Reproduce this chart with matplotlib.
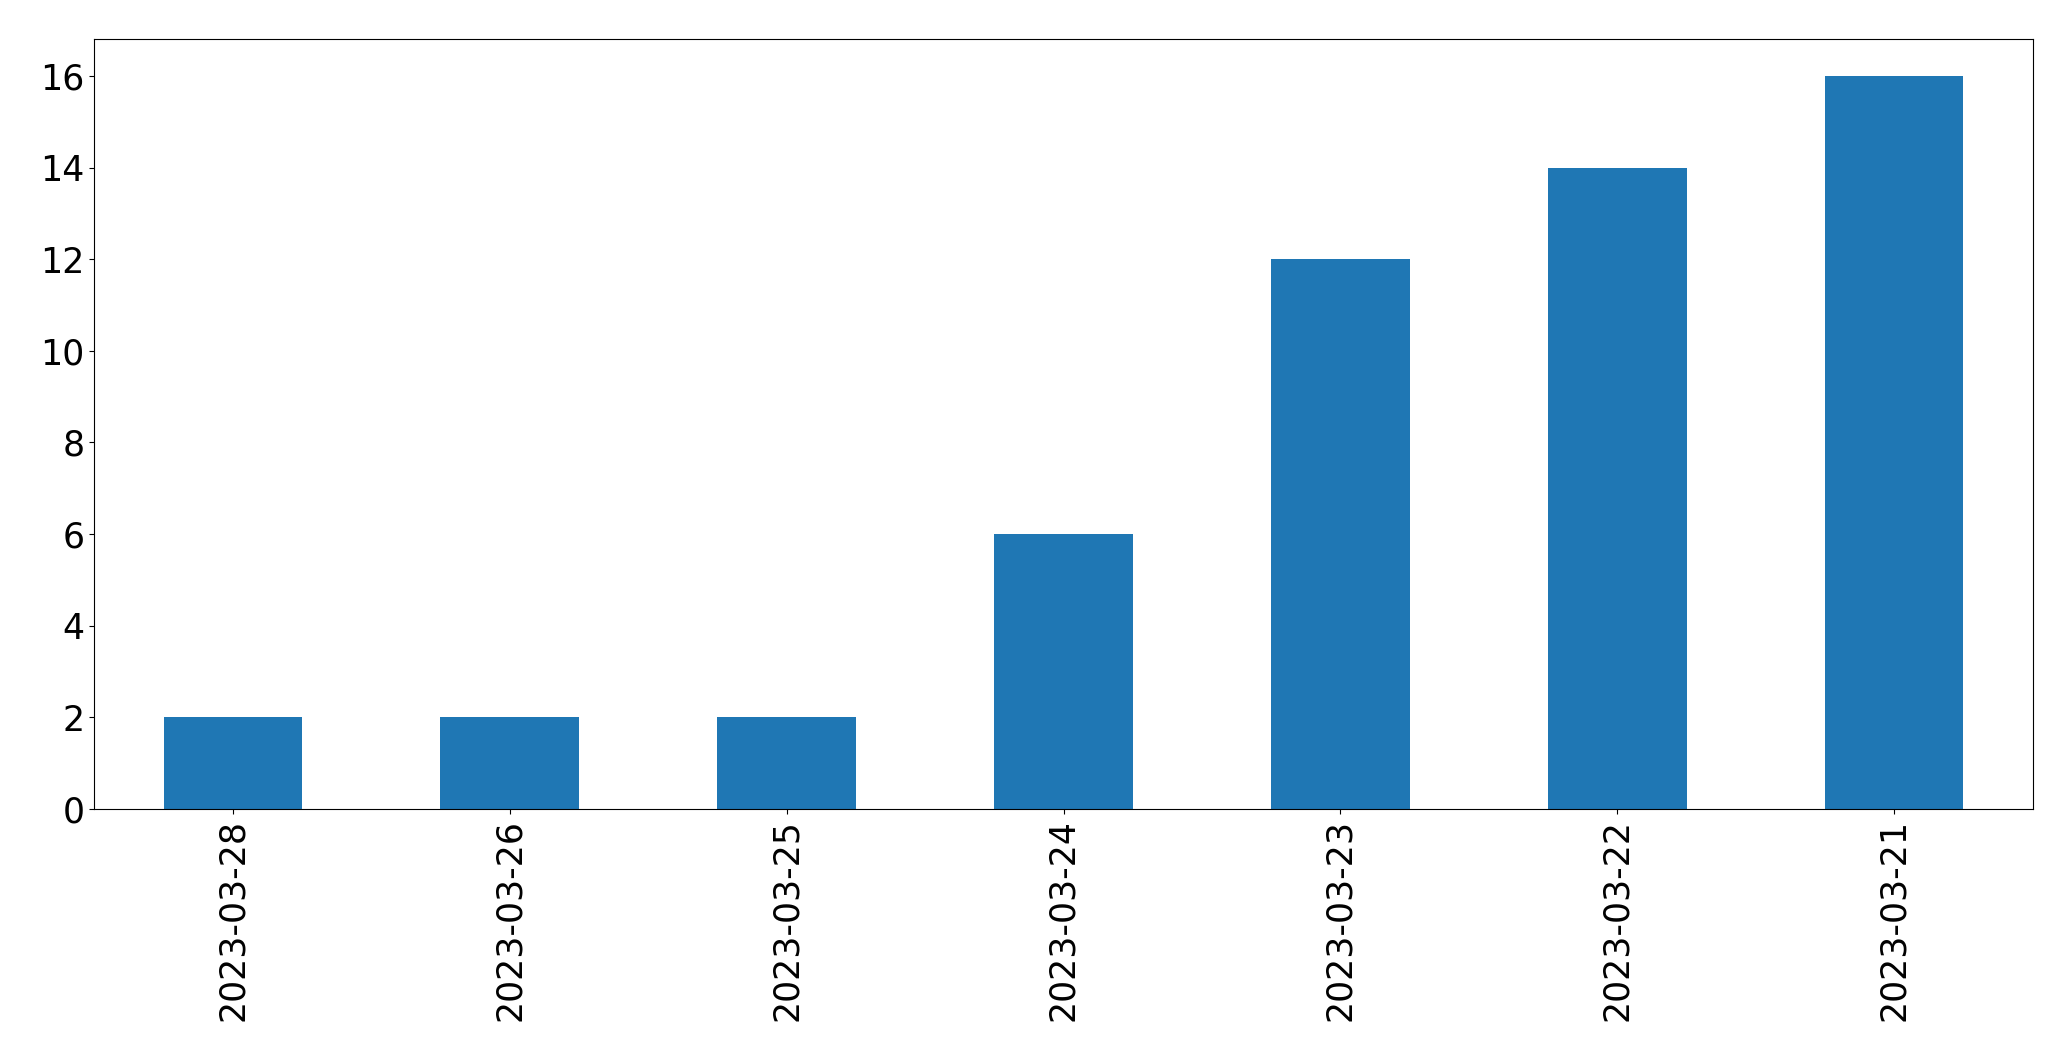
import matplotlib
matplotlib.use("Agg")
import matplotlib.pyplot as plt

dates = ["2023-03-28", "2023-03-26", "2023-03-25", "2023-03-24",
         "2023-03-23", "2023-03-22", "2023-03-21"]
counts = [2, 2, 2, 6, 12, 14, 16]

fig = plt.figure(figsize=(20.71, 10.61), dpi=100)
ax = fig.add_axes([94.3 / 2071, 1 - 809 / 1061, (2032.7 - 94.3) / 2071, (809 - 39.3) / 1061])
x = list(range(len(dates)))
ax.bar(x, counts, width=0.5, color="#1f77b4")
ax.set_xlim(-0.5, len(dates) - 0.5)
ax.set_ylim(0, max(counts) * 1.05)
ax.set_xticks(x)
ax.set_xticklabels(dates, rotation=90)
ax.set_yticks(range(0, 17, 2))
ax.tick_params(labelsize=25)
fig.savefig("out.png", dpi=100)
